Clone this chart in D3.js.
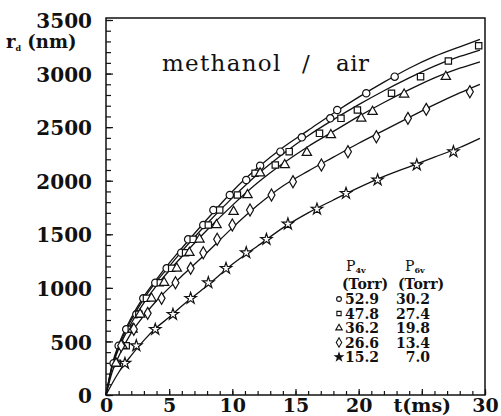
<!DOCTYPE html>
<html>
<head>
<meta charset="utf-8">
<script src="https://cdn.jsdelivr.net/npm/d3@7"></script>
<style>
  body { margin: 0; background: #fff; }
  svg { display: block; }
  text { font-family: "DejaVu Serif", serif; fill: #111; }
  .axis text { font-size: 20px; font-weight: bold; }
  .axis path { display: none; }
  .axis line { stroke: #111; stroke-width: 1.2; }
  .xaxis text { font-size: 19px; }
</style>
</head>
<body>
<svg id="chart" width="501" height="416"></svg>
<script>
// tick values / labels
const xTicks = [0, 5, 10, 15, 20, 25, 30]
const xTickLabels = ["0", "5", "10", "15", "20", "t(ms)", "30"]
const yTicks = [0, 500, 1000, 1500, 2000, 2500, 3000, 3500]

// measured points [t (ms), r_d (nm)]
const circlePts = [[0.6,296],[1.0,460],[1.6,613],[2.4,753],[2.95,902],[3.9,1048],[4.8,1182],[5.95,1328],[6.5,1453],[7.7,1587],[8.5,1727],[9.8,1867],[11.1,2007],[12.2,2140],[13.8,2271],[15.5,2405],[17.75,2582],[18.3,2660],[20.6,2816],[22.85,2971]]
const squarePts = [[0.9,296],[1.6,460],[2.0,613],[2.6,753],[3.2,902],[4.3,1048],[5.2,1182],[6.3,1328],[6.9,1453],[8.1,1587],[9.0,1727],[10.4,1867],[11.8,2070],[13.4,2147],[14.5,2271],[16.9,2442],[18.6,2582],[19.9,2660],[22.6,2816],[24.9,2971],[27.1,3117],[29.5,3260]]
const trianglePts = [[0.8,296],[1.3,460],[2.1,613],[2.7,753],[3.6,902],[4.6,1048],[5.6,1182],[6.6,1328],[7.4,1453],[8.75,1587],[10.1,1711],[11.2,1867],[12.2,2070],[14.15,2147],[15.9,2262],[17.8,2427],[20.2,2582],[21.1,2644],[23.6,2806],[26.9,2971]]
const diamondPts = [[1.2,460],[2.2,613],[3.3,762],[4.4,902],[5.5,1048],[6.7,1182],[7.7,1328],[8.8,1453],[10.0,1587],[11.4,1727],[13.1,1867],[14.8,1991],[17.05,2147],[19.15,2271],[21.4,2411],[23.9,2582],[25.35,2666],[28.8,2831]]
const starPts = [[1.5,296],[2.4,460],[3.9,613],[5.3,753],[6.7,902],[8.1,1048],[9.5,1182],[11.1,1328],[12.7,1453],[14.4,1596],[16.7,1735],[19.0,1882],[21.5,2007],[24.6,2147],[27.5,2271]]

// fitted curves
const curveT = [0,0.5,1,2,3,4,5,6,8,10,12,14,16,18,20,22,24,26,28,29.6]
const circleFit = [0,290,470,720,920,1080,1230,1370,1640,1900,2120,2310,2470,2630,2780,2920,3050,3160,3250,3320]
const squareFit = [0,280,450,700,900,1060,1200,1340,1600,1840,2060,2250,2420,2570,2710,2840,2960,3070,3160,3220]
const triangleFit = [0,270,430,670,860,1020,1160,1290,1540,1770,1980,2160,2320,2460,2600,2730,2850,2960,3050,3110]
const diamondFit = [0,220,360,580,740,880,1000,1110,1330,1560,1770,1950,2090,2220,2350,2470,2590,2710,2820,2900]
const starFit = [0,110,210,370,510,630,725,830,1020,1220,1390,1560,1700,1820,1935,2040,2130,2220,2310,2396]

// legend
const p4v = ["52.9", "47.8", "36.2", "26.6", "15.2"]
const p6v = ["30.2", "27.4", "19.8", "13.4", "7.0"]

const MARGINS = { top: 18, right: 16, bottom: 21, left: 106 }
const WIDTH = 501, HEIGHT = 416

const svg = d3.select("#chart")
const xScale = d3.scaleLinear().domain([0, 30]).range([MARGINS.left, WIDTH - MARGINS.right])
const yScale = d3.scaleLinear().domain([0, 3500]).range([HEIGHT - MARGINS.bottom, MARGINS.top + 2])

// minor ticks
svg.append("g").attr("class", "axis")
  .attr("transform", "translate(" + MARGINS.left + ",0)")
  .call(d3.axisLeft(yScale).tickValues(d3.range(0, 3501, 100)).tickSize(-5).tickFormat(""))
svg.append("g").attr("class", "axis")
  .attr("transform", "translate(0," + (HEIGHT - MARGINS.bottom) + ")")
  .call(d3.axisBottom(xScale).tickValues(d3.range(0, 31, 1)).tickSize(-4).tickFormat(""))

// major ticks + labels
const yAxis = svg.append("g").attr("class", "axis")
  .attr("transform", "translate(" + MARGINS.left + ",0)")
  .call(d3.axisLeft(yScale).tickValues(yTicks).tickSize(-7).tickPadding(14).tickFormat(d3.format("d")))
yAxis.selectAll("text").attr("dy", "0.38em")
svg.append("g").attr("class", "axis xaxis")
  .attr("transform", "translate(0," + (HEIGHT - MARGINS.bottom) + ")")
  .call(d3.axisBottom(xScale).tickValues(xTicks).tickSize(-6).tickPadding(3)
    .tickFormat((d, i) => xTickLabels[i]))

// frame
svg.append("rect")
  .attr("x", MARGINS.left).attr("y", MARGINS.top)
  .attr("width", WIDTH - MARGINS.right - MARGINS.left)
  .attr("height", HEIGHT - MARGINS.bottom - MARGINS.top)
  .attr("fill", "none").attr("stroke", "#111").attr("stroke-width", 1.5)

// curves
const lineGen = d3.line()
  .x(d => xScale(d[0]))
  .y(d => yScale(d[1]))
  .curve(d3.curveMonotoneX)

const fits = [circleFit, squareFit, triangleFit, diamondFit, starFit]
fits.forEach(function(f) {
  svg.append("path")
    .attr("d", lineGen(curveT.map((t, i) => [t, f[i]])))
    .attr("fill", "none").attr("stroke", "#111").attr("stroke-width", 1.3)
})

// markers
const series = [
  { pts: circlePts, type: d3.symbolCircle, size: 42 },
  { pts: squarePts, type: d3.symbolSquare, size: 40 },
  { pts: trianglePts, type: d3.symbolTriangle, size: 38 },
  { pts: diamondPts, type: d3.symbolDiamond, size: 42 },
  { pts: starPts, type: d3.symbolStar, size: 40 }
]
series.forEach(function(s) {
  svg.append("g").selectAll("path")
    .data(s.pts)
    .enter().append("path")
    .attr("transform", d => "translate(" + xScale(d[0]) + "," + yScale(d[1]) + ")")
    .attr("d", d3.symbol().type(s.type).size(s.size))
    .attr("fill", "#fff").attr("stroke", "#111").attr("stroke-width", 1.2)
})

// y axis title
const yt = svg.append("text").attr("x", 6).attr("y", 48)
  .style("font-size", "18px").style("font-weight", "bold")
yt.append("tspan").text("r")
yt.append("tspan").text("d").style("font-size", "8px").attr("dy", 3)
yt.append("tspan").text(" (nm)").attr("dy", -3)

// title
const title = svg.append("g").style("font-size", "23px")
title.append("text").attr("x", 162).attr("y", 71).style("letter-spacing", "1.3px").text("methanol")
title.append("text").attr("x", 302).attr("y", 71).text("/")
title.append("text").attr("x", 336).attr("y", 71).style("letter-spacing", "0.5px").text("air")

// legend
const leg = svg.append("g").style("font-size", "14px").style("font-weight", "bold")
function header(x, sub) {
  const t = leg.append("text").attr("x", x).attr("y", 271).style("font-weight", "normal").style("font-size", "14px")
  t.append("tspan").text("P")
  t.append("tspan").text(sub).style("font-size", "8px").style("font-weight", "bold").attr("dy", 2)
}
header(346, "4v")
header(405, "6v")
leg.append("text").attr("x", 342).attr("y", 289).text("(Torr)")
leg.append("text").attr("x", 398).attr("y", 289).text("(Torr)")
const legTypes = [d3.symbolCircle, d3.symbolSquare, d3.symbolTriangle, d3.symbolDiamond, d3.symbolStar]
p4v.forEach(function(v, i) {
  const yy = 304 + i * 14.5
  leg.append("path")
    .attr("transform", "translate(339," + (yy - 5) + ")")
    .attr("d", d3.symbol().type(legTypes[i]).size(i === 3 ? 26 : 18))
    .attr("fill", i === 4 ? "#111" : "#fff").attr("stroke", "#111").attr("stroke-width", 1.1)
  leg.append("text").attr("x", 345).attr("y", yy).text(v)
  leg.append("text").attr("x", 430).attr("y", yy).attr("text-anchor", "end").text(p6v[i])
})
</script>
</body>
</html>
